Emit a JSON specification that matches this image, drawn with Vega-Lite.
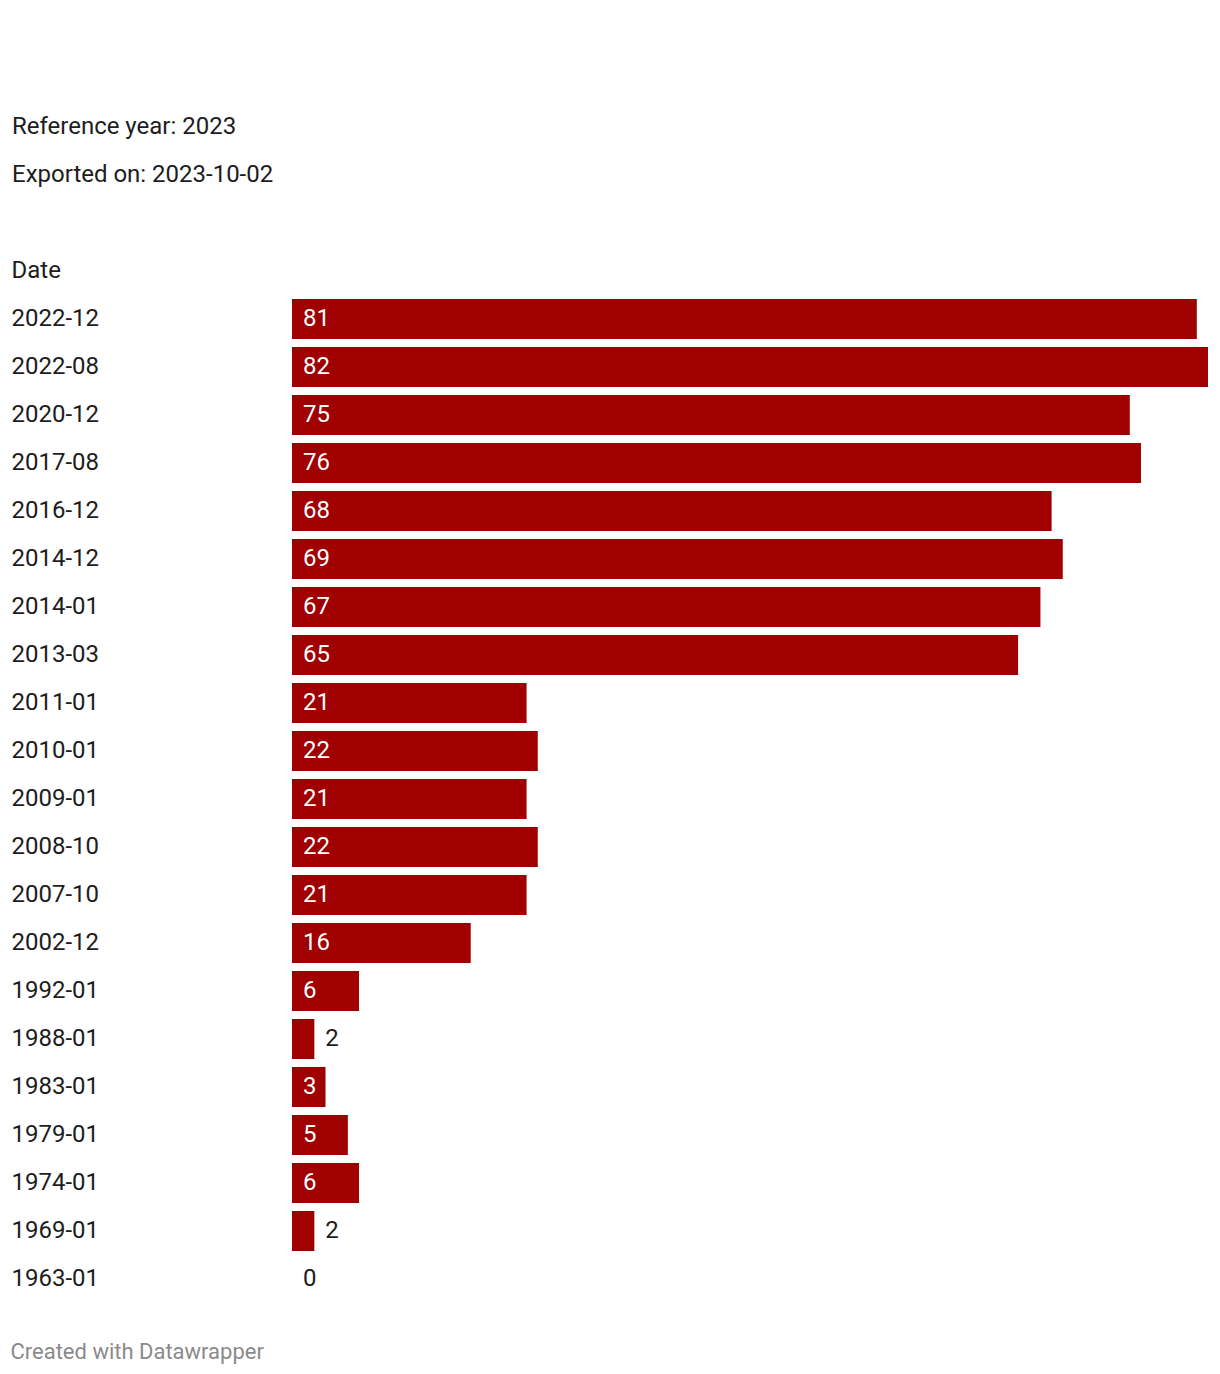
{
  "$schema": "https://vega.github.io/schema/vega-lite/v6.json",
  "width": 916,
  "height": {"step": 48},
  "padding": {"left": 10, "top": 115, "right": 0, "bottom": 10},
  "background": "white",
  "config": {
    "view": {"stroke": null},
    "font": "Roboto"
  },
  "title": {
    "text": ["Reference year: 2023", "Exported on: 2023-10-02"],
    "anchor": "start",
    "frame": "bounds",
    "fontSize": 24,
    "fontWeight": "normal",
    "font": "Roboto",
    "color": "#1d1d1d",
    "lineHeight": 48,
    "offset": 72,
    "dx": 2
  },
  "data": {
    "values": [
      {"date": "2022-12", "value": 81},
      {"date": "2022-08", "value": 82},
      {"date": "2020-12", "value": 75},
      {"date": "2017-08", "value": 76},
      {"date": "2016-12", "value": 68},
      {"date": "2014-12", "value": 69},
      {"date": "2014-01", "value": 67},
      {"date": "2013-03", "value": 65},
      {"date": "2011-01", "value": 21},
      {"date": "2010-01", "value": 22},
      {"date": "2009-01", "value": 21},
      {"date": "2008-10", "value": 22},
      {"date": "2007-10", "value": 21},
      {"date": "2002-12", "value": 16},
      {"date": "1992-01", "value": 6},
      {"date": "1988-01", "value": 2},
      {"date": "1983-01", "value": 3},
      {"date": "1979-01", "value": 5},
      {"date": "1974-01", "value": 6},
      {"date": "1969-01", "value": 2},
      {"date": "1963-01", "value": 0}
    ]
  },
  "encoding": {
    "y": {
      "field": "date",
      "type": "nominal",
      "sort": null,
      "scale": {"paddingInner": 0.16667, "paddingOuter": 0.08333},
      "axis": {
        "title": "Date",
        "titleAngle": 0,
        "titleAlign": "left",
        "titleBaseline": "middle",
        "titleX": -281,
        "titleY": -24,
        "titleFontSize": 24,
        "titleFontWeight": "normal",
        "titleFont": "Roboto",
        "titleColor": "#1d1d1d",
        "labelAlign": "left",
        "labelBaseline": "middle",
        "labelPadding": 281,
        "labelFontSize": 24,
        "labelFont": "Roboto",
        "labelColor": "#1d1d1d",
        "ticks": false,
        "domain": false,
        "grid": false
      }
    }
  },
  "layer": [
    {
      "mark": {"type": "bar", "color": "#a00000"},
      "encoding": {
        "x": {
          "field": "value",
          "type": "quantitative",
          "scale": {"domain": [0, 82], "nice": false},
          "axis": {
            "title": "Created with Datawrapper",
            "titleAlign": "left",
            "titleAnchor": null,
            "titleBaseline": "middle",
            "titleX": -282,
            "titleY": 49,
            "titleFontSize": 22,
            "titleFontWeight": "normal",
            "titleFont": "Roboto",
            "titleColor": "#8a8a8a",
            "labels": false,
            "ticks": false,
            "domain": false,
            "grid": false
          }
        }
      }
    },
    {
      "transform": [{"filter": "datum.value >= 3"}],
      "mark": {"type": "text", "align": "left", "baseline": "middle", "dx": 11, "fontSize": 24, "font": "Roboto", "color": "white"},
      "encoding": {
        "x": {"datum": 0, "type": "quantitative"},
        "text": {"field": "value", "type": "quantitative"}
      }
    },
    {
      "transform": [{"filter": "datum.value < 3"}],
      "mark": {"type": "text", "align": "left", "baseline": "middle", "dx": 11, "fontSize": 24, "font": "Roboto", "color": "#1d1d1d"},
      "encoding": {
        "x": {"field": "value", "type": "quantitative"},
        "text": {"field": "value", "type": "quantitative"}
      }
    }
  ]
}
